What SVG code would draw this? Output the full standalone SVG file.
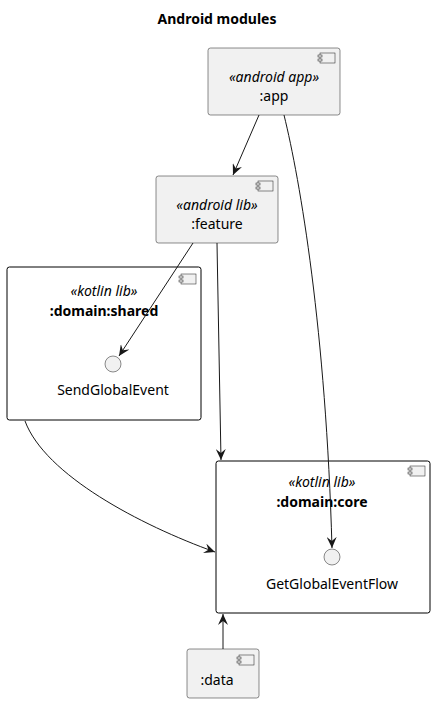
<svg xmlns="http://www.w3.org/2000/svg" width="435" height="703" viewBox="0 0 435 703">
<defs>
<style>
text{font-family:"Noto Sans","DejaVu Sans",sans-serif;font-size:14px;fill:#000;text-anchor:middle}
.st{font-style:italic}
.b{font-weight:bold}
.box{fill:#F1F1F1;stroke:#181818;stroke-width:0.5}
.pkg{fill:#FFFFFF;stroke:#000;stroke-width:1}
.ic{fill:#F1F1F1;stroke:#181818;stroke-width:0.5}
.ifc{fill:#F1F1F1;stroke:#181818;stroke-width:0.5}
.ln{fill:none;stroke:#181818;stroke-width:1}
</style>
<marker id="ah" viewBox="0 0 12 10" refX="11" refY="5" markerWidth="12" markerHeight="10" markerUnits="userSpaceOnUse" orient="auto">
<path d="M0,0 L11,5 L0,10 L4,5 Z" fill="#181818"/>
</marker>
<g id="cicon">
<rect x="0" y="0" width="15" height="10" class="ic"/>
<rect x="-2" y="2" width="4" height="2" class="ic"/>
<rect x="-2" y="6" width="4" height="2" class="ic"/>
</g>
</defs>
<text x="217" y="24" class="b">Android modules</text>
<g id="app">
<rect x="208" y="48" width="132" height="67" rx="2.5" class="box"/>
<use href="#cicon" x="320" y="53"/>
<text x="274" y="82" class="st">«android app»</text>
<text x="274" y="101">:app</text>
</g>
<g id="feature">
<rect x="156" y="176" width="122" height="67" rx="2.5" class="box"/>
<use href="#cicon" x="258" y="181"/>
<text x="217" y="210" class="st">«android lib»</text>
<text x="217" y="229">:feature</text>
</g>
<g id="domain-shared">
<rect x="7" y="267" width="194" height="153" rx="2.5" class="pkg"/>
<use href="#cicon" x="181" y="274"/>
<text x="104" y="296" class="st">«kotlin lib»</text>
<text x="104" y="316" class="b">:domain:shared</text>
</g>
<g id="SendGlobalEvent">
<circle cx="113" cy="364" r="8" class="ifc"/>
<text x="113" y="395">SendGlobalEvent</text>
</g>
<g id="domain-core">
<rect x="216" y="461" width="214" height="152" rx="2.5" class="pkg"/>
<use href="#cicon" x="410" y="466"/>
<text x="322" y="487" class="st">«kotlin lib»</text>
<text x="322" y="507" class="b">:domain:core</text>
</g>
<g id="GetGlobalEventFlow">
<circle cx="332" cy="557" r="8" class="ifc"/>
<text x="332" y="589">GetGlobalEventFlow</text>
</g>
<g id="data">
<rect x="187" y="649" width="72" height="49" rx="2.5" class="box"/>
<use href="#cicon" x="239" y="655"/>
<text x="217" y="685">:data</text>
</g>
<g id="connectors">
<path class="ln" marker-end="url(#ah)" d="M259,115 L233,175"/>
<path class="ln" marker-end="url(#ah)" d="M284,115 C300,180 326,330 332,548"/>
<path class="ln" marker-end="url(#ah)" d="M193,243 L119,356"/>
<path class="ln" marker-end="url(#ah)" d="M217,243 L221,460"/>
<path class="ln" marker-end="url(#ah)" d="M25,421 C45,475 140,525 215,552"/>
<path class="ln" marker-end="url(#ah)" d="M223,649 L223,614"/>
</g>
</svg>
